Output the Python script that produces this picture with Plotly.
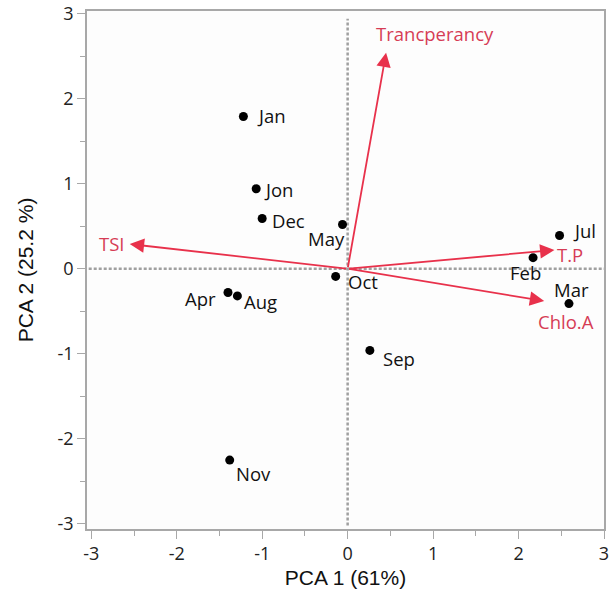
import plotly.graph_objects as go

# PCA scores per month
months = ["Jan", "Jon", "Dec", "May", "Oct", "Jul", "Feb", "Mar", "Apr", "Aug", "Nov", "Sep"]
pc1 = [-1.22, -1.07, -1.00, -0.06, -0.14, 2.48, 2.17, 2.59, -1.40, -1.29, -1.38, 0.26]
pc2 = [1.79, 0.94, 0.59, 0.52, -0.09, 0.39, 0.13, -0.41, -0.28, -0.32, -2.25, -0.96]

# variable loadings (arrows)
variables = ["TSI", "Trancperancy", "T.P", "Chlo.A"]
load1 = [-2.55, 0.45, 2.42, 2.30]
load2 = [0.29, 2.54, 0.22, -0.38]

axis_ticks = [-3, -2, -1, 0, 1, 2, 3]

# label placement (anchor, x shift px, y shift px)
month_label_style = {
    "Jan": ("left", 12, 1),
    "Jon": ("left", 6, -1),
    "Dec": ("left", 8, -2),
    "May": ("right", 4, -14),
    "Oct": ("left", 10, -5),
    "Jul": ("left", 11, 5),
    "Feb": ("center", -8, -15),
    "Mar": ("center", 3, 14),
    "Apr": ("right", -10, -6),
    "Aug": ("left", 5, -6),
    "Nov": ("left", 4, -13),
    "Sep": ("left", 11, -8),
}
var_label_style = {
    "TSI": ("right", -3, 1),
    "Trancperancy": ("left", -12, 19),
    "T.P": ("left", 1, -4),
    "Chlo.A": ("left", -8, -20),
}

RED = "#e8314b"
RED_TEXT = "#d63c55"
GRID = "#a0a0a0"
TXT_FONT = "Open Sans"

fig = go.Figure()

fig.add_trace(go.Scatter(
    x=pc1, y=pc2, mode="markers",
    marker=dict(color="black", size=9),
    hoverinfo="skip", showlegend=False,
))

annotations = []
for m, x, y in zip(months, pc1, pc2):
    anchor, dx, dy = month_label_style[m]
    annotations.append(dict(
        x=x, y=y, xref="x", yref="y", text=m, showarrow=False,
        xanchor=anchor, yanchor="middle", xshift=dx, yshift=dy,
        font=dict(family=TXT_FONT, size=18.5, color="#111111"),
    ))

for v, x, y in zip(variables, load1, load2):
    annotations.append(dict(
        x=x, y=y, xref="x", yref="y", ax=0, ay=0, axref="x", ayref="y",
        text="", showarrow=True, arrowhead=2, arrowsize=1.6,
        arrowwidth=1.8, arrowcolor=RED, standoff=0,
    ))
    anchor, dx, dy = var_label_style[v]
    annotations.append(dict(
        x=x, y=y, xref="x", yref="y", text=v, showarrow=False,
        xanchor=anchor, yanchor="middle", xshift=dx, yshift=dy,
        font=dict(family=TXT_FONT, size=18.5, color=RED_TEXT),
    ))

shapes = [
    dict(type="line", xref="x", yref="y", x0=0, x1=0, y0=-3.02, y1=2.94,
         line=dict(color=GRID, width=2.5, dash="3px,2px"), layer="below"),
    dict(type="line", xref="x", yref="y", x0=-3.03, x1=3.0, y0=0, y1=0,
         line=dict(color=GRID, width=2.5, dash="3px,2px"), layer="below"),
]

axis_common = dict(
    showgrid=False, zeroline=False, showline=True, mirror=True, automargin=False,
    linecolor="#a8a8a8", linewidth=1.5,
    ticks="outside", ticklen=8, tickwidth=1.2, tickcolor="#a8a8a8",
    tickvals=axis_ticks, ticktext=[str(t) for t in axis_ticks],
    tickfont=dict(family="Open Sans", size=18, color="#222222"),
    minor=dict(dtick=0.5, ticks="outside", ticklen=5, tickcolor="#a8a8a8", tickwidth=1.2),
)

fig.update_layout(
    width=613, height=599,
    margin=dict(l=87, r=9, t=11, b=70),
    paper_bgcolor="white", plot_bgcolor="#fdfdfd",
    xaxis=dict(range=[-3.05, 3.0], title=dict(text="PCA 1 (61%)", standoff=6,
               font=dict(family="Liberation Sans", size=21, color="#111111")), **axis_common),
    yaxis=dict(range=[-3.06, 3.03], title=dict(text="PCA 2 (25.2 %)", standoff=18,
               font=dict(family="Liberation Sans", size=21, color="#111111")), **axis_common),
    annotations=annotations,
    shapes=shapes,
)

fig.write_html("out.html")
